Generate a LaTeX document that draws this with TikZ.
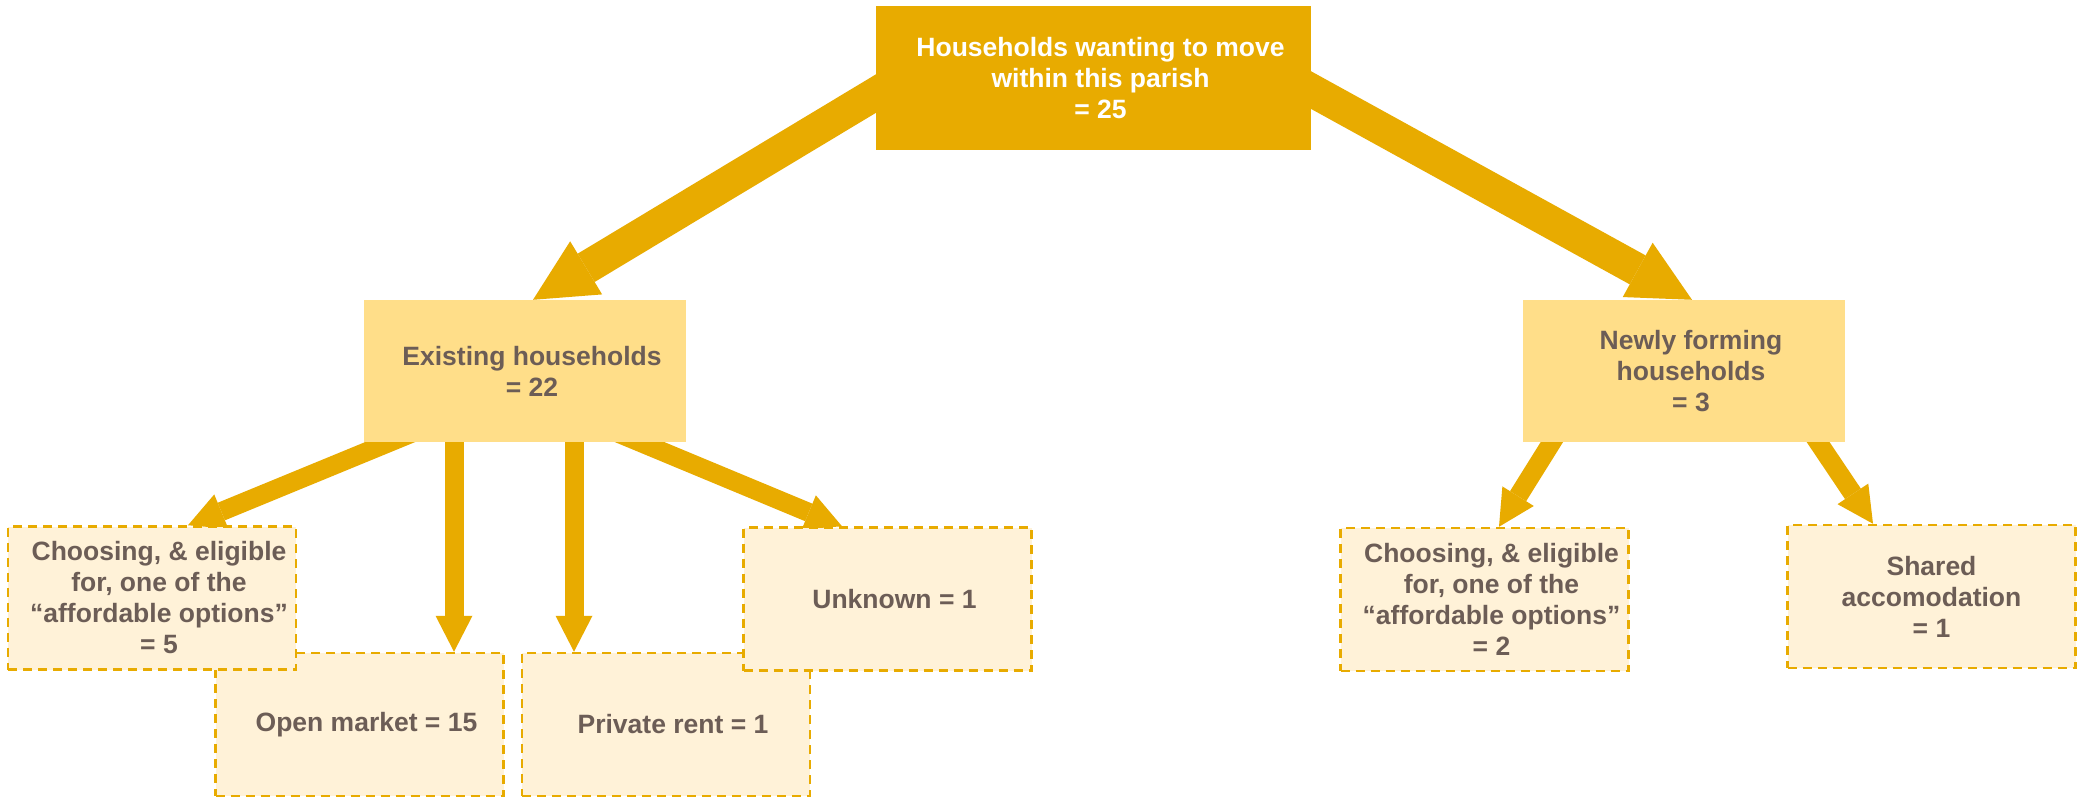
\documentclass[tikz,border=0pt]{standalone}
\usepackage{fontspec}
\setmainfont{Liberation Sans}
\usetikzlibrary{arrows.meta,backgrounds}

\definecolor{gold}{HTML}{E8AB00}
\definecolor{wheat}{HTML}{FFDE89}
\definecolor{cream}{HTML}{FFF2D8}
\definecolor{brownish}{HTML}{6C5D56}

\tikzset{
  every node/.style={font=\fontsize{26.5}{31}\selectfont\bfseries, align=center, inner sep=0pt},
  boxtext/.style={label={[text=brownish,xshift=7pt]center:{#1}}},
  topbox/.style={fill=gold, minimum width=435pt, minimum height=144pt,
    label={[text=white,xshift=7pt]center:{#1}}},
  midbox/.style={fill=wheat, minimum width=322pt, minimum height=142pt, boxtext={#1}},
  leafbox/.style={fill=cream, draw=gold, line width=2.5pt, dash pattern=on 9pt off 6pt,
    minimum width=288pt, minimum height=143pt},
  bigarrow/.style={color=gold, line width=33pt, -{Triangle[length=62pt,width=62pt,line width=0pt]}},
  smallarrow/.style={color=gold, line width=19pt, -{Triangle[length=36pt,width=37pt,line width=0pt]}},
}

\begin{document}
\begin{tikzpicture}[x=1pt,y=-1pt]
\useasboundingbox (0,0) rectangle (2078,799);

% top level
\node[topbox={Households wanting to move\\within this parish\\= 25}] (top) at (1093.5,78) {};

% second level
\node[midbox={Existing households\\= 22}] (exist) at (525,371) {};
\node[midbox={Newly forming\\households\\= 3}] (newly) at (1684,371) {};

% leaves
\node[leafbox, boxtext={Open market = 15}] (openmkt) at (359.5,724.5) {};
\node[leafbox, boxtext={Choosing, \& eligible\\for, one of the\\“affordable options”\\= 5}] (chooseL) at (152,598) {};
\node[leafbox, boxtext={Private rent = 1}] (private) at (666,724.5) {};
\node[leafbox, boxtext={Unknown = 1}] (unknown) at (887.5,599) {};
\node[leafbox, boxtext={Choosing, \& eligible\\for, one of the\\“affordable options”\\= 2}] (chooseR) at (1484.5,599.5) {};
\node[leafbox, text=brownish] (shared) at (1931.5,596.5) {Shared\\accomodation\\= 1};

\begin{scope}[on background layer]
\fill[white] (0,0) rectangle (2078,799);
\draw[bigarrow] ([xshift=51pt,yshift=15pt]top.west) -- ([xshift=8pt]exist.north);
\draw[bigarrow] ([xshift=-53pt,yshift=17pt]top.east) -- ([xshift=8pt]newly.north);
\draw[smallarrow] ([xshift=-89pt,yshift=19pt]exist.south) -- ([xshift=36pt]chooseL.north);
\draw[smallarrow] ([xshift=-71pt,yshift=10pt]exist.south) -- ([xshift=94.5pt]openmkt.north);
\draw[smallarrow] ([xshift=49pt,yshift=10pt]exist.south) -- ([xshift=-92pt]private.north);
\draw[smallarrow] ([xshift=68pt,yshift=19.5pt]exist.south) -- ([xshift=-45.5pt]unknown.north);
\draw[smallarrow] ([xshift=-111pt,yshift=34pt]newly.south) -- ([xshift=14.5pt]chooseR.north);
\draw[smallarrow] ([xshift=112pt,yshift=33pt]newly.south) -- ([xshift=-58.5pt]shared.north);
\end{scope}
\end{tikzpicture}
\end{document}
